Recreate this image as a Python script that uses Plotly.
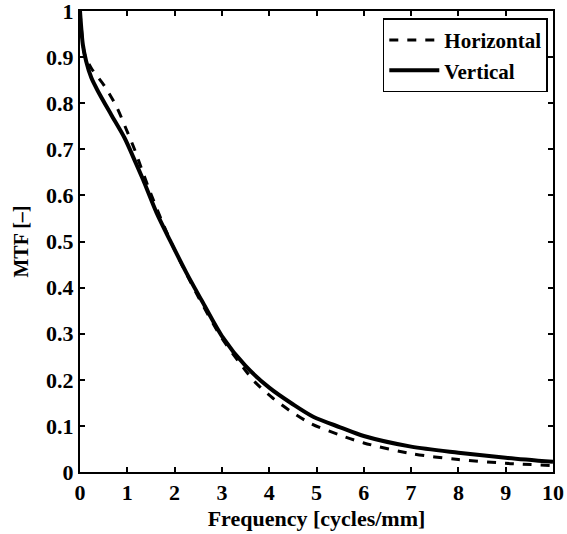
import plotly.graph_objects as go

# MTF curves
freq_v = [0, 0.06, 0.13, 0.24, 0.38, 0.66, 0.94, 1.16, 1.33, 1.62, 1.9, 2.25, 2.6, 3.0, 3.5, 4.0, 4.5, 4.93, 5.5, 6.0, 7.0, 8.0, 9.0, 10.0]
mtf_v = [1.0, 0.927, 0.891, 0.855, 0.826, 0.775, 0.725, 0.675, 0.635, 0.562, 0.503, 0.432, 0.367, 0.295, 0.23, 0.183, 0.147, 0.12, 0.097, 0.078, 0.055, 0.042, 0.031, 0.022]

freq_h = [0, 0.05, 0.1, 0.24, 0.52, 0.77, 0.98, 1.16, 1.3, 1.5, 1.75, 2.0, 2.5, 3.0, 3.38, 3.7, 4.08, 4.48, 4.9, 5.5, 6.0, 7.0, 8.0, 9.0, 10.0]
mtf_h = [1.0, 0.94, 0.905, 0.876, 0.837, 0.793, 0.743, 0.698, 0.658, 0.603, 0.54, 0.482, 0.38, 0.29, 0.236, 0.195, 0.16, 0.13, 0.104, 0.08, 0.063, 0.04, 0.027, 0.019, 0.014]

x_ticks = list(range(0, 11))
y_ticks = [round(i * 0.1, 1) for i in range(11)]

font = "Liberation Serif"

fig = go.Figure()
fig.add_trace(go.Scatter(x=freq_h, y=mtf_h, mode="lines", name="Horizontal",
                         line=dict(color="black", width=3, dash="dash", shape="spline", smoothing=0.8)))
fig.add_trace(go.Scatter(x=freq_v, y=mtf_v, mode="lines", name="Vertical",
                         line=dict(color="black", width=4, shape="spline", smoothing=0.8)))

axis_common = dict(showline=True, linecolor="black", linewidth=2, mirror="ticks",
                   ticks="inside", ticklen=5, tickwidth=1.5, tickcolor="black",
                   showgrid=False, zeroline=False, automargin=False,
                   ticklabeloverflow="allow",
                   tickfont=dict(family=font, size=22, color="black", weight="bold"))

fig.update_xaxes(range=[0, 10], tickvals=x_ticks,
                 title=dict(text="Frequency [cycles/mm]", standoff=6,
                            font=dict(family=font, size=22, color="black", weight="bold")),
                 **axis_common)
fig.update_yaxes(range=[0, 1], tickvals=y_ticks,
                 title=dict(text="MTF [–]", standoff=12,
                            font=dict(family=font, size=20, color="black", weight="bold")),
                 **axis_common)

fig.update_layout(
    width=567, height=534,
    margin=dict(l=80, r=14, t=11, b=62),
    plot_bgcolor="white", paper_bgcolor="white",
    legend=dict(x=0.989, y=0.984, xanchor="right", yanchor="top",
                bgcolor="white", bordercolor="black", borderwidth=1.5,
                itemwidth=50,
                font=dict(family=font, size=21, color="black", weight="bold"),
                tracegroupgap=0),
)

fig.write_html("out.html", config={"displayModeBar": False},
               post_script="document.body.style.margin='0';")
